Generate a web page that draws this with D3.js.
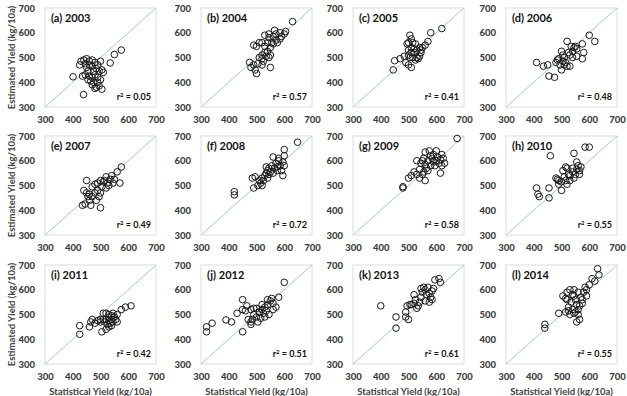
<!DOCTYPE html>
<html>
<head>
<meta charset="utf-8">
<script src="https://cdn.jsdelivr.net/npm/d3@7"></script>
<style>
  body { margin: 0; background: #fff; }
  svg { display: block; font-family: Lato, "Open Sans", sans-serif; font-weight: bold; }
</style>
</head>
<body>
<script>
// panel labels and r² values
var panelNames = ['(a) 2003', '(b) 2004', '(c) 2005', '(d) 2006', '(e) 2007', '(f) 2008',
                  '(g) 2009', '(h) 2010', '(i) 2011', '(j) 2012', '(k) 2013', '(l) 2014'];
var rSquared = ['0.05', '0.57', '0.41', '0.48', '0.49', '0.72', '0.58', '0.55', '0.42', '0.51', '0.61', '0.55'];
var tickValues = [300, 400, 500, 600, 700];

// [statistical, estimated] yield pairs
var y2003 = [[401,422],[439,350],[535,478],[550,512],[575,530],[505,372],[480,375],[430,485],[440,490],[445,475],
  [425,470],[450,460],[460,485],[470,490],[480,480],[490,470],[500,485],[505,450],[495,445],[485,455],[470,465],
  [455,445],[445,430],[435,425],[460,425],[470,420],[480,430],[490,420],[500,410],[490,400],[475,400],[465,405],
  [455,410],[470,390],[485,380],[495,385],[510,440],[460,470],[450,495],[475,445]];
var y2004 = [[630,645],[605,605],[600,595],[585,600],[570,595],[560,585],[545,595],[530,590],[520,560],[510,560],
  [490,550],[500,545],[530,545],[540,560],[555,560],[570,570],[585,575],[590,585],[550,540],[540,525],[530,520],
  [520,510],[535,505],[545,500],[550,510],[520,495],[510,500],[525,485],[505,475],[490,470],[475,480],[480,460],
  [495,450],[500,435],[520,470],[550,460],[560,555],[575,560],[545,580],[565,610]];
var y2005 = [[620,617],[580,600],[570,565],[560,550],[445,450],[450,487],[470,495],[485,505],[500,510],[490,480],
  [500,470],[510,460],[505,590],[510,575],[500,560],[515,560],[525,555],[510,540],[520,535],[530,530],[540,540],
  [550,540],[545,520],[540,505],[530,500],[520,520],[510,520],[500,530],[505,500],[525,490],[535,495],[515,500],
  [545,530],[495,555]];
var y2006 = [[600,590],[620,565],[575,555],[580,520],[575,495],[410,480],[435,465],[450,470],[455,425],[475,420],
  [485,490],[490,495],[500,525],[505,510],[510,500],[520,565],[525,520],[530,510],[540,525],[545,540],[550,545],
  [555,535],[535,545],[515,480],[520,465],[530,465],[500,450],[495,470],[505,485],[510,470],[540,500],[480,480],
  [555,505]];
var y2007 = [[575,575],[560,555],[540,540],[520,535],[545,510],[530,500],[570,510],[550,525],[435,420],[445,425],
  [465,420],[500,410],[440,480],[450,470],[455,455],[460,465],[470,495],[480,505],[490,510],[500,520],[510,515],
  [505,495],[490,480],[480,470],[470,455],[485,440],[495,455],[520,490],[525,510],[460,440],[450,520],[500,470],
  [515,520],[535,525]];
var y2008 = [[648,675],[600,645],[600,620],[595,595],[600,580],[590,560],[595,540],[420,475],[420,462],[485,530],
  [495,535],[490,490],[505,500],[515,510],[520,500],[525,520],[530,540],[535,550],[540,560],[545,570],[550,555],
  [555,580],[560,615],[565,570],[570,590],[575,575],[580,600],[585,580],[560,550],[540,530],[520,530],[510,520],
  [545,545],[535,575],[575,560],[580,610]];
var y2009 = [[675,690],[480,495],[480,490],[615,550],[560,520],[500,530],[510,540],[520,555],[530,545],[540,565],
  [545,590],[550,600],[555,610],[560,585],[565,570],[570,600],[575,640],[580,620],[585,610],[590,595],[595,580],
  [600,600],[605,615],[610,590],[615,605],[620,625],[625,610],[630,590],[540,530],[550,545],[530,600],[560,635],
  [600,640],[590,625],[580,580],[620,580],[570,560],[555,555]];
var y2010 = [[585,655],[600,655],[545,630],[460,620],[555,595],[560,580],[410,490],[415,465],[420,455],[455,450],
  [455,490],[485,525],[480,530],[490,505],[500,515],[500,480],[510,535],[505,560],[515,575],[520,570],[525,545],
  [530,540],[540,555],[545,530],[550,545],[565,560],[570,575],[565,545],[530,520],[515,520],[520,505],[490,520],
  [540,570],[555,565]];
var y2011 = [[610,535],[590,530],[575,520],[425,455],[425,420],[460,450],[465,470],[480,465],[490,475],[500,480],
  [510,505],[520,505],[530,500],[540,495],[550,490],[555,480],[560,470],[545,470],[535,465],[525,460],[515,470],
  [505,430],[520,440],[530,450],[540,455],[520,480],[530,490],[510,480],[560,500],[545,505],[470,480],[500,470],
  [530,475],[540,480]];
var y2012 = [[600,630],[580,570],[320,450],[320,430],[340,465],[390,478],[410,470],[430,505],[450,430],[450,560],
  [465,535],[480,520],[490,525],[470,480],[480,470],[480,460],[500,490],[510,510],[520,520],[530,530],[540,540],
  [550,555],[555,565],[560,545],[570,530],[545,500],[530,490],[515,485],[510,510],[500,525],[490,500],[525,505],
  [520,540],[535,515],[540,560],[450,520],[460,515],[485,480],[560,520],[505,470]];
var y2013 = [[400,535],[455,445],[455,490],[490,510],[490,490],[500,480],[495,535],[505,540],[520,545],[530,525],
  [525,560],[535,535],[540,550],[545,570],[550,590],[555,610],[560,600],[565,580],[570,610],[575,585],[580,570],
  [585,560],[590,605],[595,640],[610,645],[615,630],[560,555],[575,550],[545,605],[520,580],[510,540],[585,595]];
var y2014 = [[440,460],[440,445],[490,505],[505,575],[520,590],[520,560],[525,530],[530,600],[540,580],[545,575],
  [550,560],[555,540],[560,520],[565,535],[570,570],[575,560],[580,590],[585,610],[590,600],[600,620],[610,645],
  [630,685],[635,660],[620,635],[555,470],[545,505],[530,500],[515,510],[525,515],[540,520],[550,510],[565,480],
  [560,500],[575,545],[545,600],[560,590],[590,575],[535,550],[515,565]];

var panelData = [y2003, y2004, y2005, y2006, y2007, y2008, y2009, y2010, y2011, y2012, y2013, y2014];

var W = 627, H = 396;
var colLeft = [45, 201, 353, 506], rowTop = [8, 136, 265];
var pw = 111, ph = 99;

var svg = d3.select('body').append('svg')
  .attr('width', W)
  .attr('height', H);

panelData.forEach(function(data, i) {
  var col = i % 4, row = Math.floor(i / 4);
  var g = svg.append('g')
    .attr('transform', 'translate(' + colLeft[col] + ',' + rowTop[row] + ')');

  var x = d3.scaleLinear().domain([300, 700]).range([0, pw]);
  var y = d3.scaleLinear().domain([300, 700]).range([ph, 0]);

  // plot frame
  g.append('rect')
    .attr('width', pw).attr('height', ph)
    .attr('fill', '#fff')
    .attr('stroke', '#dcdcdc')
    .attr('stroke-width', 1);

  // 1:1 line
  g.append('line')
    .attr('x1', x(300)).attr('y1', y(300))
    .attr('x2', x(700)).attr('y2', y(700))
    .attr('stroke', '#a9c9d1')
    .attr('stroke-width', 1);

  var xAxis = g.append('g')
    .attr('transform', 'translate(0,' + ph + ')')
    .call(d3.axisBottom(x).tickValues(tickValues).tickSize(0).tickPadding(9));
  var yAxis = g.append('g')
    .call(d3.axisLeft(y).tickValues(tickValues).tickSize(0).tickPadding(10));
  [xAxis, yAxis].forEach(function(a) {
    a.select('.domain').remove();
    a.selectAll('text')
      .attr('fill', '#404040')
      .style('font-size', '9.5px')
      .style('font-family', 'Lato, sans-serif')
      .style('font-weight', '900');
  });

  g.selectAll('circle')
    .data(data)
    .enter().append('circle')
      .attr('cx', function(d) { return x(d[0]) })
      .attr('cy', function(d) { return y(d[1]) })
      .attr('r', 3.3)
      .attr('fill', 'none')
      .attr('stroke', '#1a1a1a')
      .attr('stroke-width', 1);

  g.append('text')
    .attr('x', 6).attr('y', 14)
    .attr('fill', '#111')
    .style('font-size', '11px')
    .text(panelNames[i]);

  var r2 = g.append('text')
    .attr('x', pw - 5).attr('y', ph - 7)
    .attr('text-anchor', 'end')
    .attr('fill', '#111')
    .style('font-size', '9px');
  r2.append('tspan').text('r');
  r2.append('tspan').attr('dy', -3.5).style('font-size', '6px').text('2');
  r2.append('tspan').attr('dy', 3.5).text(' = ' + rSquared[i]);

  if (col === 0) {
    g.append('text')
      .attr('transform', 'translate(' + (-30) + ',' + (ph / 2) + ') rotate(-90)')
      .attr('text-anchor', 'middle')
      .attr('fill', '#404040')
      .style('font-size', '9.5px')
      .text('Estimated Yield (kg/10a)');
  }
  if (row === 2) {
    g.append('text')
      .attr('x', pw / 2).attr('y', ph + 31)
      .attr('text-anchor', 'middle')
      .attr('fill', '#404040')
      .style('font-size', '9.5px')
      .text('Statistical Yield (kg/10a)');
  }
});
</script>
</body>
</html>
